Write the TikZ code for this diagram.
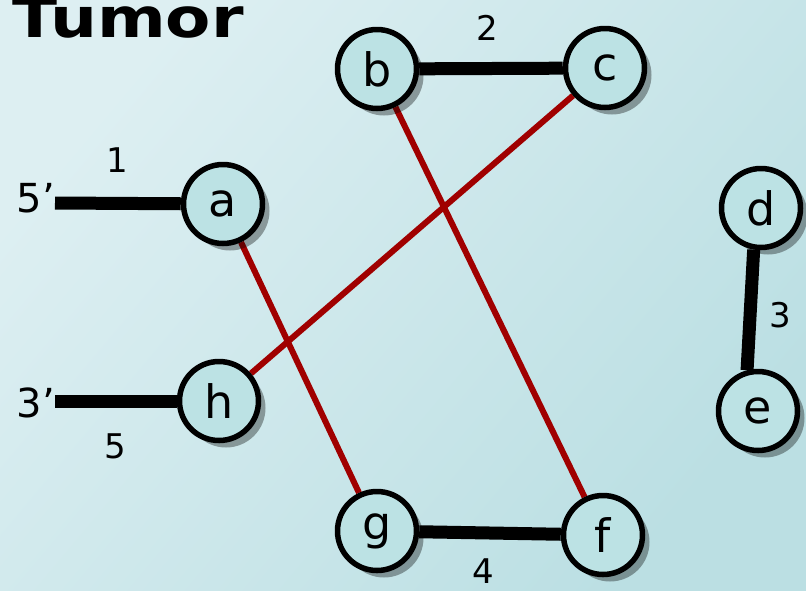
\documentclass[tikz,border=0pt]{standalone}
\usepackage{fontspec}
\setmainfont{DejaVu Sans}
\usetikzlibrary{shadows,backgrounds}
\definecolor{bgTL}{HTML}{DDEFF2}
\definecolor{bgBR}{HTML}{BBDFE3}
\definecolor{nodefill}{HTML}{BCE2E4}
\definecolor{linkred}{HTML}{A00000}
\begin{document}
\begin{tikzpicture}[x=1pt,y=-1pt,
  vertex/.style={circle, draw=black, line width=5.5pt, fill=nodefill,
    minimum size=79pt, inner sep=0pt, font=\fontsize{46}{46}\selectfont,
    drop shadow={shadow xshift=7pt, shadow yshift=-7pt, opacity=0.35, fill=black}},
  bond/.style={line width=13pt, draw=black},
  cross/.style={line width=6pt, draw=linkred},
  weight/.style={inner sep=0pt, font=\fontsize{34}{34}\selectfont},
  endlabel/.style={inner sep=0pt, font=\fontsize{40}{40}\selectfont}]
\useasboundingbox (0,0) rectangle (806,590);

% title
\node[anchor=base west, inner sep=0pt, font=\fontsize{55}{55}\selectfont\bfseries]
  (title) at (12,37) {\scalebox{1.2}[1]{Tumor}};

% vertices
\node[vertex] (a) at (223,204) {a};
\node[vertex] (b) at (377,69) {b};
\node[vertex] (c) at (605,68) {c};
\node[vertex] (d) at (761,208) {d};
\node[vertex] (e) at (758,411) {e};
\node[vertex] (f) at (603,535) {f};
\node[vertex] (g) at (377,531) {g};
\node[vertex] (h) at (219,401) {h};

% free ends of the two terminal segments
\coordinate (end5) at (55,203);
\coordinate (end3) at (55,401);

% labels
\node[endlabel] (l5p) at (36,198) {5’};
\node[endlabel] (l3p) at (36,403) {3’};
\node[weight] (w1) at (117,160) {1};
\node[weight] (w2) at (487,28) {2};
\node[weight] (w3) at (780,315) {3};
\node[weight] (w4) at (483,571) {4};
\node[weight] (w5) at (115,446) {5};

\begin{scope}[on background layer]
  \shade[top color=bgTL, bottom color=bgBR, shading angle=50]
    (0,0) rectangle (806,590);
  % black segments
  \draw[bond] (end5) -- (a);
  \draw[bond] (end3) -- (h);
  \draw[bond] (b) -- (c);
  \draw[bond] (g) -- (f);
  \draw[bond] (d.-100) -- (e.105);
  % red crossing links
  \draw[cross] (a) -- (g);
  \draw[cross] (b) -- (f);
  \draw[cross] (c) -- (h);
\end{scope}
\end{tikzpicture}
\end{document}
